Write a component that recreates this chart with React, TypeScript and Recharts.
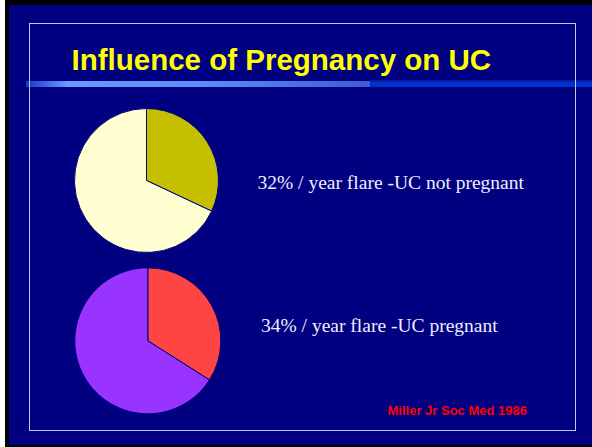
import { PieChart, Pie, Cell } from "recharts"

// share of patients with a flare per year
const notPregnant = [
  { name: "flare", value: 32 },
  { name: "no flare", value: 68 },
]
const pregnant = [
  { name: "flare", value: 34 },
  { name: "no flare", value: 66 },
]
const notPregnantColors = ["#c4c000", "#ffffd2"]
const pregnantColors = ["#ff4444", "#9933ff"]

const title = "Influence of Pregnancy on UC"
const labels = ["32% / year flare -UC not pregnant", "34% / year flare -UC pregnant"]
const source = "Miller Jr Soc Med 1986"

const NAVY = "#000080"

export default function App() {
  return (
    <div style={{ position: "absolute", left: 0, top: 0, width: 592, height: 447, background: "#fff" }}>
      {/* slide frame */}
      <div style={{ position: "absolute", left: 5, top: 0, width: 587, height: 447, background: "#000" }} />
      <div style={{ position: "absolute", left: 9, top: 5, width: 583, height: 440, background: NAVY }} />

      {/* title underline */}
      <div
        style={{
          position: "absolute",
          left: 26,
          top: 81,
          width: 344,
          height: 6,
          background: "linear-gradient(to right, #1a36c8 0%, #6a98ff 12%, #5f8cf6 50%, #3b5cd6 100%)",
        }}
      />
      <div style={{ position: "absolute", left: 370, top: 80, width: 222, height: 2, background: "#0a1aa8" }} />
      <div style={{ position: "absolute", left: 370, top: 82, width: 222, height: 5, background: "#0033cc" }} />

      {/* inner border */}
      <div
        style={{
          position: "absolute",
          left: 29,
          top: 23,
          width: 545,
          height: 406,
          border: "1px solid #c4c4ec",
        }}
      />

      <div style={{ position: "absolute", left: 0, top: 0 }}>
        <PieChart width={592} height={447} margin={{ top: 0, right: 0, bottom: 0, left: 0 }}>
          <Pie
            data={notPregnant}
            dataKey="value"
            cx={146.5}
            cy={180.5}
            outerRadius={72}
            startAngle={90}
            endAngle={-270}
            stroke={NAVY}
            strokeWidth={1}
            isAnimationActive={false}
          >
            {notPregnant.map((d, i) => (
              <Cell key={d.name} fill={notPregnantColors[i]} />
            ))}
          </Pie>
          <Pie
            data={pregnant}
            dataKey="value"
            cx={147.8}
            cy={340.8}
            outerRadius={73}
            startAngle={90}
            endAngle={-270}
            stroke={NAVY}
            strokeWidth={1}
            isAnimationActive={false}
          >
            {pregnant.map((d, i) => (
              <Cell key={d.name} fill={pregnantColors[i]} />
            ))}
          </Pie>
        </PieChart>
      </div>

      <svg width={592} height={447} style={{ position: "absolute", left: 0, top: 0, pointerEvents: "none" }}>
        <text
          x={71.5}
          y={69.5}
          fill="#ffff00"
          fontFamily="'Liberation Sans', Arial, sans-serif"
          fontWeight="bold"
          fontSize={29.5}
        >
          {title}
        </text>
        <text x={257.5} y={189} fill="#eeeeff" fontFamily="'Liberation Serif', 'Times New Roman', serif" fontSize={19.5}>
          {labels[0]}
        </text>
        <text x={261} y={331.5} fill="#eeeeff" fontFamily="'Liberation Serif', 'Times New Roman', serif" fontSize={19.5}>
          {labels[1]}
        </text>
        <text
          x={387.5}
          y={415}
          fill="#ff0000"
          fontFamily="'Liberation Sans', Arial, sans-serif"
          fontWeight="bold"
          fontSize={13}
        >
          {source}
        </text>
      </svg>
    </div>
  )
}
